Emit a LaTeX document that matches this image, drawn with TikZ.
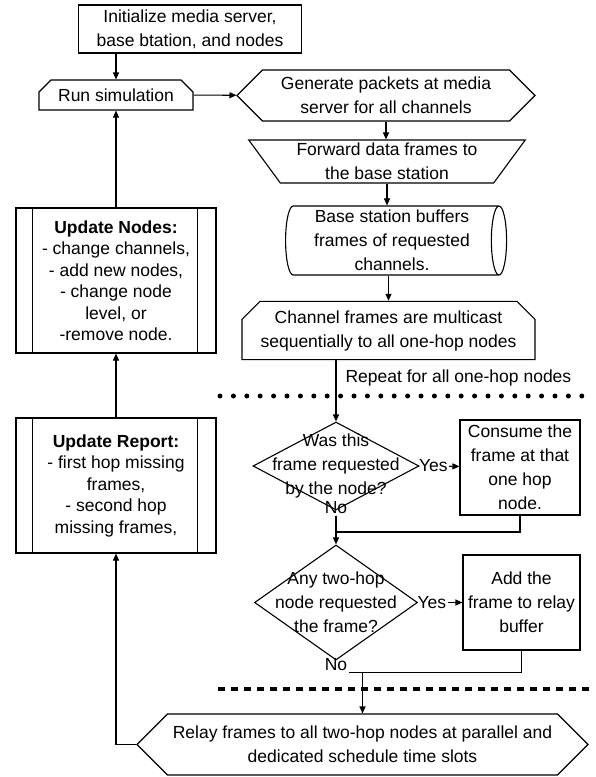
\documentclass[tikz,border=0pt]{standalone}
\usepackage{fontspec}
\setmainfont{Liberation Sans}
\usetikzlibrary{shapes.geometric,shapes.misc,shapes.symbols,arrows.meta}

\begin{document}
\begin{tikzpicture}[x=1pt,y=-1pt,line width=1.1pt,>={Triangle[length=7pt,width=6pt]},
    every node/.style={font=\fontsize{17.5}{24}\selectfont, align=center, inner sep=1pt},
    box/.style={draw, rectangle, inner sep=0pt},
    lim/.style={draw, chamfered rectangle, chamfered rectangle corners={north west,north east}, inner sep=0pt},
    hex/.style={draw, signal, signal to=west and east, signal pointer angle=90, inner sep=0pt},
    manual/.style={draw, trapezium, shape border rotate=180, trapezium left angle=54, trapezium right angle=54, trapezium stretches=true, inner sep=0pt},
    store/.style={draw, cylinder, aspect=0.25, inner sep=0pt},
    decide/.style={draw, diamond, inner sep=0pt},
    sub/.style={draw, rectangle, inner sep=0pt, font=\fontsize{17.5}{21.5}\selectfont}]
    \useasboundingbox (0,0) rectangle (595,777);

    \node[box, minimum width=223, minimum height=48] (init) at (190,29) {Initialize media server,\\base btation, and nodes};
    \node[lim, chamfered rectangle sep=6pt, minimum width=154, minimum height=30] (run) at (116,95) {Run simulation};

    \node[hex, minimum width=298, minimum height=51] (gen) at (386,95.5) {Generate packets at media\\server for all channels};
    \node[manual, minimum width=277, minimum height=43] (fwd) at (387,161.5) {Forward data frames to\\the base station};
    % cylinder: height runs along its axis
    \node[store, minimum width=69, minimum height=221] (buf) at (392,240.5) {Base station buffers\\frames of requested\\channels.};
    \node[lim, chamfered rectangle sep=9pt, minimum width=293, minimum height=55] (chan) at (388.5,330.5) {Channel frames are multicast\\sequentially to all one-hop nodes};
    \node[anchor=west] (rep1) at (344,378) {Repeat for all one-hop nodes};

    \node[sub, minimum width=200, minimum height=145] (upd) at (116,280.5) {\textbf{Update Nodes:}\\- change channels,\\- add new nodes,\\- change node\\level, or\\-remove node.};
    \node[sub, minimum width=200, minimum height=135] (rep) at (116,485.5) {\textbf{Update Report:}\\- first hop missing\\frames,\\- second hop\\missing frames,};
    \draw ([xshift=17pt]upd.north west) -- ([xshift=17pt]upd.south west);
    \draw ([xshift=-19pt]upd.north east) -- ([xshift=-19pt]upd.south east);
    \draw ([xshift=17pt]rep.north west) -- ([xshift=17pt]rep.south west);
    \draw ([xshift=-19pt]rep.north east) -- ([xshift=-19pt]rep.south east);

    % one-hop part
    \node[decide, minimum width=166, minimum height=88] (q1) at (336,466) {};
    \node[inner sep=0pt] (q1t) at (q1) {Was this\\frame requested\\by the node?};
    \node[box, minimum width=120, minimum height=95] (con) at (520,467.5) {Consume the\\frame at that\\one hop\\node.};
    \node[anchor=west] (yes1) at ([xshift=-2pt]q1.east) {Yes};
    \node (no1) at (336,508) {No};
    \coordinate (m1) at (336,532);

    \node[decide, minimum width=163, minimum height=115] (q2) at (336,602.5) {};
    \node[inner sep=0pt] (q2t) at (q2) {Any two-hop\\node requested\\the frame?};
    \node[box, minimum width=117, minimum height=95] (add) at (521.5,602.5) {Add the\\frame to relay\\buffer};
    \node[anchor=west] (yes2) at ([xshift=-2pt]q2.east) {Yes};
    \node (no2) at (336,665) {No};

    \node[hex, minimum width=451, minimum height=61] (relay) at (362.5,744.5) {Relay frames to all two-hop nodes at parallel and\\dedicated schedule time slots};

    \draw[->] (run.north |- init.south) -- (run.north);
    \draw[->] (run) -- (gen);
    \draw[->] (gen.south) -- (gen.south |- fwd.north);
    \draw[->] (fwd.south) -- (fwd.south |- buf.north);
    \draw[->] (chan.north |- buf.south) -- (chan.north);
    \draw[->] (q1.north |- chan.south) -- (q1.north);
    \draw[->] (yes1) -- (con);
    \draw[->] (no1) -- (q2.north);
    \draw (con.south) |- (m1);
    \draw[->] (yes2) -- (add);
    \draw (no2.south east) -| (add.south);
    \coordinate (m2) at (relay.north |- no2.south);
    \draw[->] (m2) -- (relay.north);
    \draw[->] (relay.west) -| (rep.south);
    \draw[->] (rep.north) -- (upd.south);
    \draw[->] (upd.north) -- (run.south);

    \draw[line width=5pt, line cap=round, dash pattern=on 0pt off 13.4pt] (220,396) -- (592,396);
    \draw[line width=3.5pt, dash pattern=on 7pt off 6pt] (218,689) -- (592,689);
\end{tikzpicture}
\end{document}
